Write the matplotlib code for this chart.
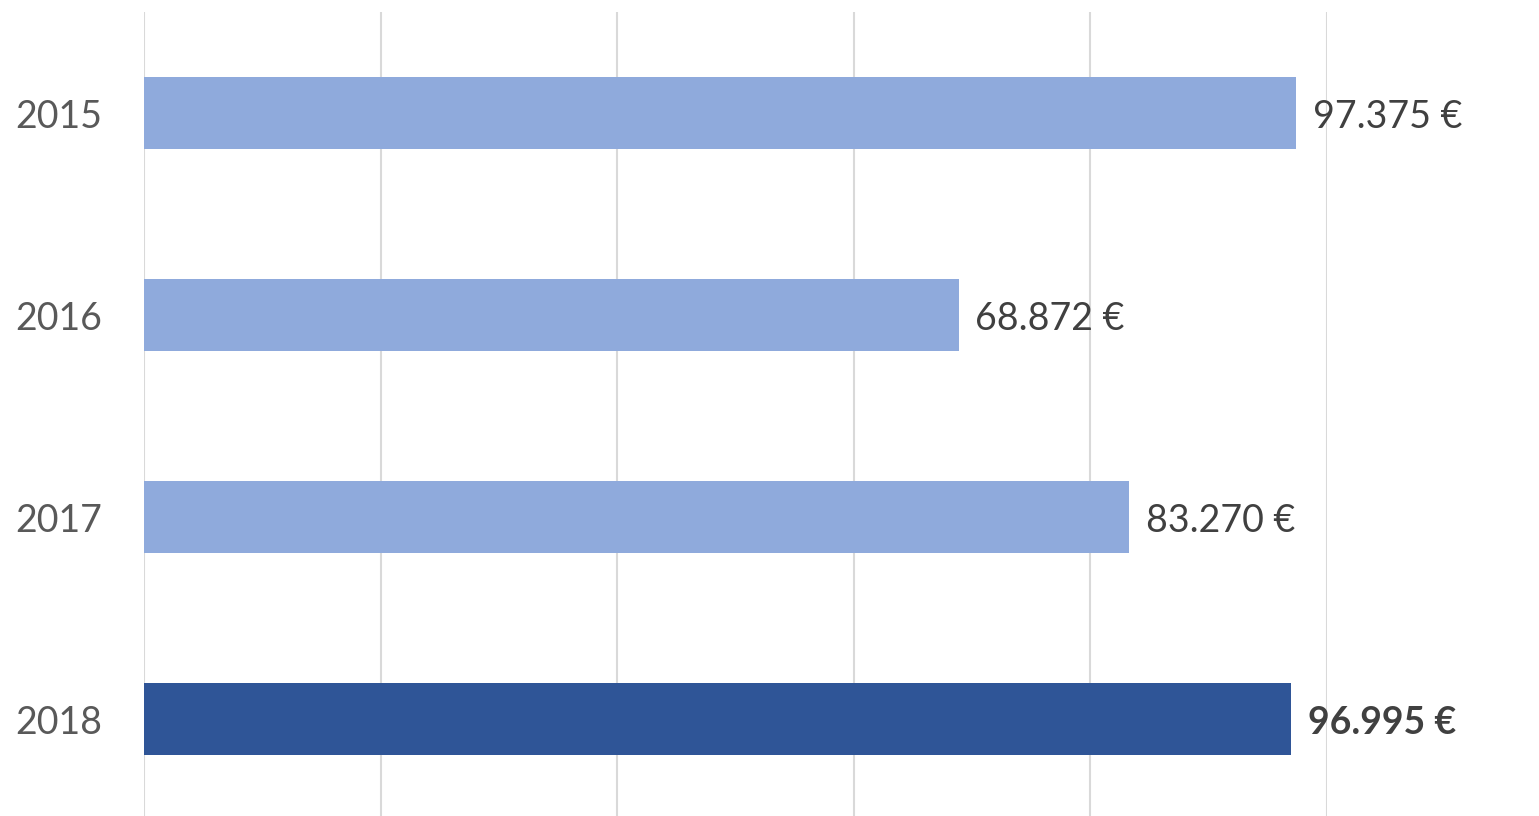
import matplotlib
matplotlib.use("Agg")
import matplotlib.pyplot as plt

years = ["2015", "2016", "2017", "2018"]
values = [97375, 68872, 83270, 96995]
highlight = "2018"

LIGHT = "#8FAADC"
DARK = "#2F5597"


def euro(v):
    return f"{v:,}".replace(",", ".") + " €"


plt.rcParams["font.family"] = ["Lato", "DejaVu Sans"]

fig = plt.figure(figsize=(15.39, 8.16), dpi=100)
ax = fig.add_axes([144 / 1539, 0, (1327 - 144) / 1539, 1 - 12 / 816])

ypos = list(range(len(years)))
colors = [DARK if y == highlight else LIGHT for y in years]
ax.barh(ypos, values, height=0.355, color=colors, zorder=2)

# value labels right of each bar, last year in bold
for y, v, yr in zip(ypos, values, years):
    bold = yr == highlight
    ax.annotate(euro(v), (v, y), xytext=(12, -3), textcoords="offset points",
                ha="left", va="center", fontsize=27, color="#404040",
                fontweight="bold" if bold else "normal", annotation_clip=False)

ax.set_xlim(0, 100000)
ax.set_ylim(3.48, -0.5)
ax.set_xticks(range(0, 100001, 20000))
ax.set_yticks(ypos)
ax.set_yticklabels(years, fontsize=27, color="#595959")
ax.tick_params(axis="x", length=0, labelbottom=False)
ax.tick_params(axis="y", length=0, pad=30)
ax.grid(axis="x", color="#D9D9D9", linewidth=1.5, zorder=0)
for s in ax.spines.values():
    s.set_visible(False)

fig.savefig("out.png", dpi=100)
